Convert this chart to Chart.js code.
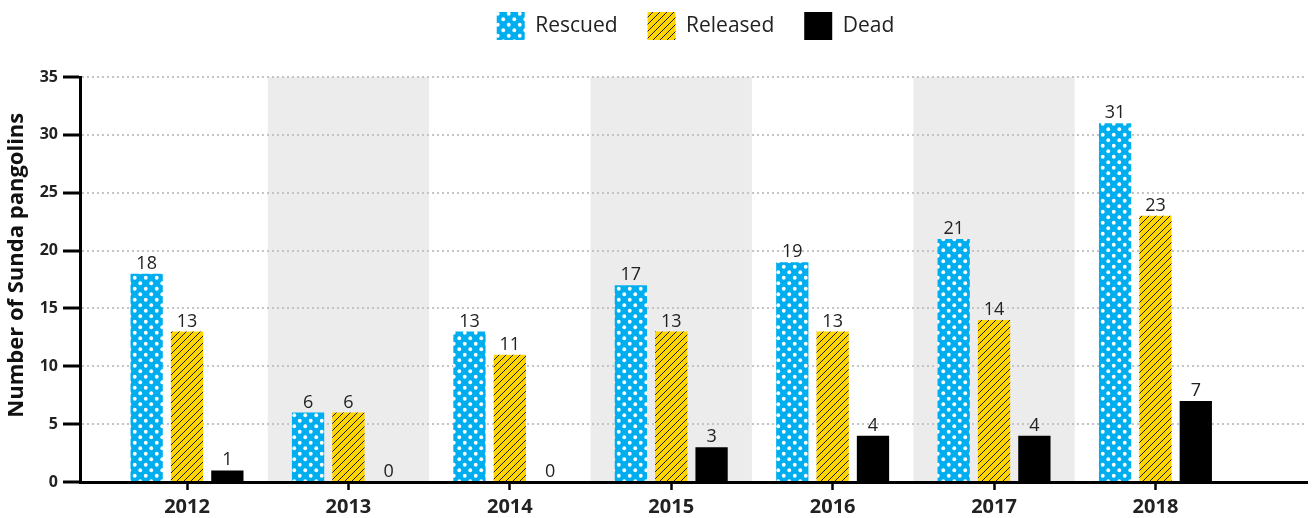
<!DOCTYPE html>
<html><head><meta charset="utf-8">
<script src="https://cdn.jsdelivr.net/npm/chart.js@4/dist/chart.umd.min.js"></script>
<style>html,body{margin:0;padding:0;background:#fff;overflow:hidden}#wrap{width:1315px;height:518px;position:relative}</style>
</head><body><div id="wrap"><canvas id="c" width="1315" height="518"></canvas></div>
<script>
const years = [2012, 2013, 2014, 2015, 2016, 2017, 2018];
const yearLabels = ['2012', '2013', '2014', '2015', '2016', '2017', '2018'];
const rescued = [18, 6, 13, 17, 19, 21, 31];
const released = [13, 6, 11, 13, 13, 14, 23];
const dead = [1, 0, 0, 3, 4, 4, 7];
const shadedYears = [2013, 2015, 2017];
const seriesNames = ['Rescued', 'Released', 'Dead'];
const yAxisTitle = 'Number of Sunda pangolins';

const FONT = "'Open Sans', 'Noto Sans', sans-serif";
Chart.defaults.font.family = FONT;
Chart.defaults.color = '#222';

const canvas = document.getElementById('c');
const mainCtx = canvas.getContext('2d');

function dotPattern() {
  const c = document.createElement('canvas');
  c.width = 11; c.height = 11;
  const g = c.getContext('2d');
  g.fillStyle = '#00aeef';
  g.fillRect(0, 0, 11, 11);
  g.fillStyle = '#ffffff';
  [[2.75, 2.75], [8.25, 8.25]].forEach(([x, y]) => {
    g.beginPath(); g.arc(x, y, 1.9, 0, Math.PI * 2); g.fill();
  });
  return mainCtx.createPattern(c, 'repeat');
}
function hatchPattern() {
  const s = 7;
  const c = document.createElement('canvas');
  c.width = s; c.height = s;
  const g = c.getContext('2d');
  g.fillStyle = '#ffd500';
  g.fillRect(0, 0, s, s);
  g.strokeStyle = '#1e1e1e';
  g.lineWidth = 1;
  g.beginPath();
  g.moveTo(-1, s + 1); g.lineTo(s + 1, -1);
  g.moveTo(-1, 1); g.lineTo(1, -1);
  g.moveTo(s - 1, s + 1); g.lineTo(s + 1, s - 1);
  g.stroke();
  return mainCtx.createPattern(c, 'repeat');
}

const toPoints = arr => arr.map((v, i) => ({ x: years[i], y: v }));

const bandsPlugin = {
  id: 'bands',
  beforeDraw(chart) {
    const { ctx, chartArea: a, scales: { x } } = chart;
    ctx.save();
    ctx.fillStyle = '#ececec';
    shadedYears.forEach(yr => {
      const l = x.getPixelForValue(yr - 0.5), r = x.getPixelForValue(yr + 0.5);
      ctx.fillRect(l, a.top, r - l, a.bottom - a.top);
    });
    ctx.restore();
  }
};

const valueLabels = {
  id: 'valueLabels',
  afterDatasetsDraw(chart) {
    const ctx = chart.ctx;
    ctx.save();
    ctx.font = "18px " + FONT;
    ctx.fillStyle = '#222';
    ctx.textAlign = 'center';
    ctx.textBaseline = 'alphabetic';
    chart.data.datasets.forEach((ds, i) => {
      const meta = chart.getDatasetMeta(i);
      meta.data.forEach((el, j) => {
        ctx.fillText(String(ds.data[j].y), el.x, el.y - 5);
      });
    });
    ctx.restore();
  }
};

const legendLayout = {
  id: 'legendLayout',
  beforeInit(chart) {
    const lg = chart.legend;
    const f = lg.fit;
    lg.fit = function () { f.apply(this, arguments); this.height = 77; };
  },
  afterLayout(chart) {
    const lg = chart.legend;
    lg.left += 42; lg.right += 42;
    lg.top = -18; lg.bottom = 59;
  }
};

new Chart(canvas, {
  type: 'bar',
  data: {
    datasets: [
      { label: seriesNames[0], data: toPoints(rescued), backgroundColor: dotPattern(), borderWidth: 0 },
      { label: seriesNames[1], data: toPoints(released), backgroundColor: hatchPattern(), borderWidth: 0 },
      { label: seriesNames[2], data: toPoints(dead), backgroundColor: '#000000', borderWidth: 0 }
    ]
  },
  options: {
    responsive: false,
    animation: false,
    layout: { padding: { left: 0, right: 8, top: 0, bottom: 0 } },
    datasets: { bar: { categoryPercentage: 0.75, barPercentage: 0.8 } },
    plugins: {
      legend: {
        position: 'top', align: 'center',
        labels: { boxWidth: 28, boxHeight: 28, padding: 30, color: '#222', font: { size: 21, family: FONT } }
      },
      tooltip: { enabled: false }
    },
    scales: {
      x: {
        type: 'linear', min: 2011.337, max: 2018.939, offset: false,
        afterBuildTicks(s) { s.ticks = years.map(v => ({ value: v })); },
        afterFit(s) { s.height = 36; },
        ticks: { callback: (v, i) => yearLabels[i], font: { size: 20, weight: 'bold' }, color: '#222', padding: 5, maxRotation: 0, autoSkip: false },
        grid: { offset: false, drawOnChartArea: false, drawTicks: true, tickLength: 8, tickColor: '#000', tickWidth: 2.5 },
        border: { color: '#000', width: 3 }
      },
      y: {
        min: 0, max: 35,
        afterFit(s) { s.width = 80; },
        ticks: { stepSize: 5, font: { size: 16, weight: 'bold' }, color: '#222', padding: 5 },
        grid: { color: '#c4c4c4', lineWidth: 2, tickColor: '#000', tickWidth: 3, tickLength: 17, tickBorderDash: [] },
        border: { color: '#000', width: 3, dash: [2, 3] },
        title: { display: true, text: '     ' + yAxisTitle, font: { size: 22, weight: 'bold' }, color: '#111', padding: { top: 4, bottom: 0 } }
      }
    }
  },
  plugins: [bandsPlugin, valueLabels, legendLayout]
});
</script>
</body></html>
